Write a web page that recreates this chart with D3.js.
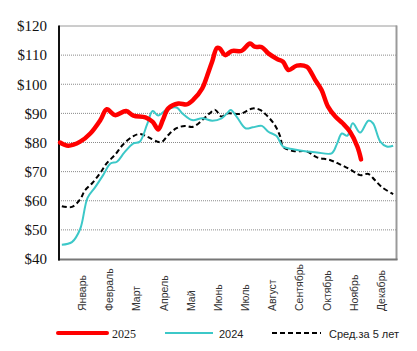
<!DOCTYPE html>
<html><head><meta charset="utf-8">
<script src="https://cdn.jsdelivr.net/npm/d3@7"></script>
<style>body{margin:0;background:#fff}svg{display:block}</style>
</head><body>
<script>
const months = ["Январь","Февраль","Март","Апрель","Май","Июнь","Июль","Август","Сентябрь","Октябрь","Ноябрь","Декабрь"];
const yTicks = [40,50,60,70,80,90,100,110,120];

const days2025 = [0,9,22,33,44,51,60,72,80,93,101,107,112,118,129,138,145,155,160,166,171,174,180,187,198,207,212,220,227,237,243,249,258,269,272,278,285,292,300,308,316,324,328];
const vals2025 = [80,78.9,80.3,83.1,87.7,91.4,89.4,90.8,89.2,88.6,87.1,84.5,87.7,91.7,93.4,93.1,94.6,98.6,102.6,108,112.5,112.3,110,111.4,111.5,114,112.9,112.7,110.6,108.6,107.7,104.9,106.4,106,104.9,101.5,98,92.3,88.9,86.6,83.7,78.6,74.2];

const days2024 = [2,13,22,30,38,47,55,62,70,80,87,95,101,107,117,127,134,144,155,166,176,182,186,193,202,210,220,227,236,243,254,269,280,296,302,307,313,319,327,336,341,349,356,363];
const vals2024 = [44.9,45.8,50.3,61,64.5,68.8,72.8,73.4,76.5,79.7,80.3,86.3,90.8,89.3,91.5,92,89.8,87.7,88.3,87.5,88.3,90,91.2,88.6,84.9,85.2,85.7,83.7,82.2,78.6,77.7,76.9,76.6,76.3,79.7,83.1,82.3,86.6,83.4,87.5,86.6,80.3,78.6,78.9];

const daysAvg = [2,13,22,27,35,44,51,60,69,80,87,95,106,111,118,127,136,145,156,163,169,176,183,196,210,218,225,234,240,243,254,269,280,294,305,316,327,336,343,351,363];
const valsAvg = [58.1,57.9,60.5,63.5,66,69.6,72.9,75.8,79.4,82.2,82.9,82,80.3,80.2,82.6,84.9,85.7,85.4,88,90,91.2,88.9,90,89.8,91.7,91.2,89.4,86,82,78.6,77.1,76.9,74.9,74,72.5,70.8,68.8,69.2,67.1,64.6,62.3];

const legendNames = ["2025","2024","Сред.за 5 лет"];

const W = 417, H = 351;
const svg = d3.select("body").append("svg").attr("width", W).attr("height", H);

const x = d3.scaleLinear().domain([0, 365]).range([60, 395]);
const y = d3.scaleLinear().domain([40, 120]).range([259, 26]);
const mx = d3.scalePoint().domain(months).range([86, 385]);

// gridlines
svg.append("g").selectAll("line").data(yTicks.filter(d => d > 40 && d < 120)).join("line")
  .attr("x1", 59).attr("x2", 396).attr("y1", d => y(d)).attr("y2", d => y(d))
  .attr("stroke", "#8a8a8a").attr("stroke-width", 1).attr("stroke-dasharray", "1,1");

// frame
svg.append("line").attr("x1", 59).attr("x2", 397).attr("y1", 26).attr("y2", 26).attr("stroke", "#9a9a9a").attr("stroke-width", 1);
svg.append("line").attr("x1", 396.5).attr("x2", 396.5).attr("y1", 25.5).attr("y2", 260).attr("stroke", "#9a9a9a").attr("stroke-width", 2);
svg.append("line").attr("x1", 58).attr("x2", 397.5).attr("y1", 259.5).attr("y2", 259.5).attr("stroke", "#777", ).attr("stroke-width", 2);
svg.append("line").attr("x1", 59).attr("x2", 59).attr("y1", 25.5).attr("y2", 260.5).attr("stroke", "#111").attr("stroke-width", 2);

// y labels
svg.append("g").selectAll("text").data(yTicks).join("text")
  .attr("x", 47).attr("y", d => y(d)).attr("dy", "0.35em")
  .attr("text-anchor", "end")
  .attr("font-family", "Liberation Serif, Times New Roman, serif")
  .attr("font-size", 15).attr("fill", "#111")
  .text(d => "$" + d);

// month labels
svg.append("g").selectAll("text").data(months).join("text")
  .attr("transform", d => `translate(${mx(d)},311) rotate(-90)`)
  .attr("text-anchor", "start")
  .attr("font-family", "Liberation Sans, Arial, sans-serif")
  .attr("font-size", 10.5).attr("fill", "#333")
  .text(d => d);

const line = d3.line().x(d => x(d[0])).y(d => y(d[1])).curve(d3.curveCatmullRom.alpha(0.5));

const avg = d3.zip(daysAvg, valsAvg);
const s24 = d3.zip(days2024, vals2024);
const s25 = d3.zip(days2025, vals2025);

svg.append("path").datum(avg).attr("d", line).attr("fill", "none")
  .attr("stroke", "#000").attr("stroke-width", 2).attr("stroke-dasharray", "5,3");
svg.append("path").datum(s24).attr("d", line).attr("fill", "none")
  .attr("stroke", "#3cc8c8").attr("stroke-width", 2);
svg.append("path").datum(s25).attr("d", line).attr("fill", "none")
  .attr("stroke", "#ff0000").attr("stroke-width", 4.5).attr("stroke-linejoin", "round").attr("stroke-linecap", "round");

// legend
const lg = svg.append("g");
lg.append("line").attr("x1", 58).attr("x2", 107).attr("y1", 333).attr("y2", 333)
  .attr("stroke", "#ff0000").attr("stroke-width", 4).attr("stroke-linecap", "round");
lg.append("text").attr("x", 112).attr("y", 337.5).attr("font-family", "Liberation Serif, serif").attr("font-size", 12).attr("fill", "#222").text(legendNames[0]);
lg.append("line").attr("x1", 165).attr("x2", 213).attr("y1", 333).attr("y2", 333)
  .attr("stroke", "#3cc8c8").attr("stroke-width", 2);
lg.append("text").attr("x", 219).attr("y", 337.5).attr("font-family", "Liberation Sans, sans-serif").attr("font-size", 11).attr("fill", "#222").text(legendNames[1]);
lg.append("line").attr("x1", 272).attr("x2", 321).attr("y1", 333).attr("y2", 333)
  .attr("stroke", "#000").attr("stroke-width", 2).attr("stroke-dasharray", "5,3");
lg.append("text").attr("x", 329).attr("y", 337.5).attr("font-family", "Liberation Sans, sans-serif").attr("font-size", 11).attr("fill", "#222").text(legendNames[2]);
</script>
</body></html>
